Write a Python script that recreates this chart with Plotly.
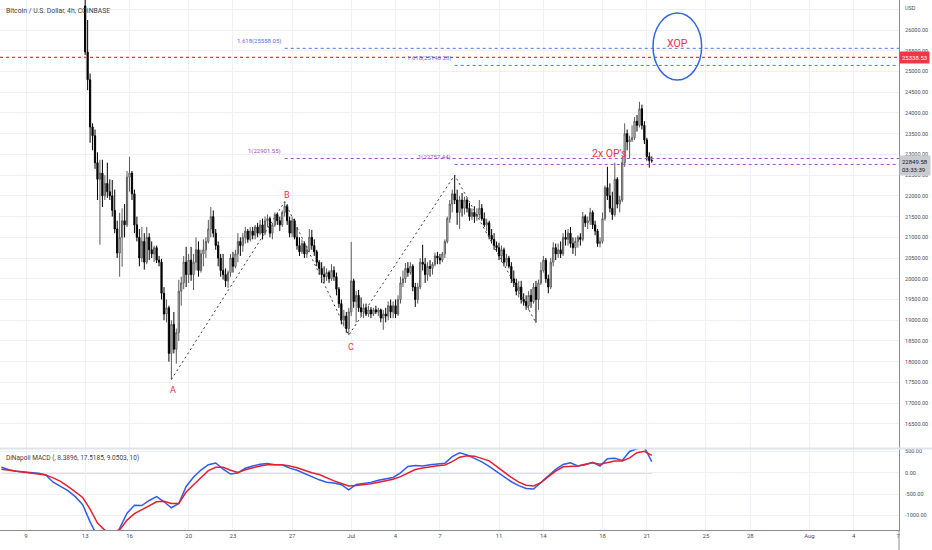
import pandas as pd
import plotly.graph_objects as go

# ---------------- data ----------------
closes = [25470, 24800, 23660, 23450, 22800, 22400, 22550, 22000, 22300, 22100,
          22000, 21650, 21200, 20620, 21000, 21400, 21300, 22450, 22550, 22050,
          21300, 21000, 20500, 20900, 20400, 21000, 20700, 20600, 20750, 20450,
          20400, 19650, 19150, 19300, 18200, 18900, 18300, 18700, 19700, 19900,
          20400, 20100, 20450, 20100, 20400, 20700, 20200, 20600, 20700, 20900,
          21200, 21500, 21100, 20800, 20500, 20200, 20100, 19950, 20150, 20500,
          20300, 20600, 20900, 20800, 21000, 21150, 20950, 21150, 21050, 21250,
          21100, 21300, 21100, 21400, 21450, 21100, 21300, 21550, 21400, 21300,
          21600, 21750, 21400, 21100, 21400, 21000, 20800, 20650, 20850, 20600,
          20700, 21000, 20800, 20650, 20400, 20250, 20100, 20050, 20150, 20000,
          20200, 20050, 19750, 19400, 19000, 19100, 18800, 19200, 19950, 19450,
          19600, 19300, 19200, 19300, 19150, 19250, 19150, 19250, 19200, 19250,
          19050, 19150, 19100, 19350, 19200, 19350, 19150, 19500, 19900, 20000,
          20250, 20150, 20300, 19800, 19500, 19800, 20400, 20350, 20100, 20300,
          20250, 20350, 20550, 20500, 20450, 20600, 20900, 21450, 21800, 22050,
          21900, 21600, 21900, 21700, 21900, 21700, 21500, 21600, 21500, 21550,
          21700, 21450, 21300, 21350, 21050, 20950, 20800, 20750, 20550, 20700,
          20400, 20500, 20300, 20000, 19900, 19700, 19800, 19500, 19450, 19350,
          19600, 19450, 19800, 19500, 19900, 20200, 20450, 20000, 19800, 20400,
          20750, 20600, 20700, 20600, 21000, 20950, 21100, 20850, 20750, 20900,
          21000, 20950, 21500, 21350, 21400, 21600, 21300, 21150, 20850, 20900,
          21450, 22200, 22000, 21700, 21550, 22400, 21800, 21900, 22800, 23500,
          23300, 23350, 23400, 23800, 23700, 24100, 23700, 23350, 22950, 22850,
          22849.58]
highs = [26900, 26240, 24950, 23750, 23600, 23050, 22870, 22870, 22500, 22800,
         22400, 22380, 22150, 21400, 21590, 21700, 21800, 22600, 22940, 22600,
         22150, 21500, 21200, 21250, 21100, 21250, 21100, 20900, 20800, 20800,
         20550, 20480, 19800, 19500, 19350, 19000, 19200, 18800, 19975, 20050,
         20550, 20770, 20600, 20770, 20600, 21000, 20900, 20700, 20950, 21000,
         21420, 21730, 21650, 21200, 20900, 20600, 20600, 20250, 20200, 20600,
         20650, 20700, 21100, 21000, 21100, 21250, 21200, 21250, 21250, 21300,
         21350, 21420, 21450, 21500, 21550, 21500, 21350, 21600, 21600, 21500,
         21650, 21860, 21800, 21500, 21500, 21450, 21250, 21000, 20950, 20900,
         20800, 21200, 21180, 20950, 20700, 20450, 20400, 20300, 20250, 20200,
         20350, 20300, 20150, 19800, 19500, 19250, 19200, 19300, 20890, 20000,
         19700, 19730, 19550, 19400, 19400, 19350, 19320, 19300, 19350, 19300,
         19280, 19250, 19300, 19450, 19500, 19450, 19500, 19600, 20050, 20200,
         20380, 20400, 20400, 20350, 19900, 19900, 20500, 20820, 20500, 20400,
         20450, 20400, 20630, 20650, 20600, 20650, 20950, 21500, 21900, 22150,
         22500, 22150, 22000, 22070, 21980, 21950, 21830, 21700, 21750, 21700,
         21900, 21800, 21600, 21450, 21400, 21200, 21100, 20900, 20870, 20800,
         20750, 20600, 20550, 20400, 20200, 20000, 19950, 19950, 19650, 19600,
         19700, 19750, 19900, 19950, 19980, 20400, 20550, 20500, 20100, 20500,
         20880, 20850, 20850, 20900, 21100, 21180, 21200, 21250, 21000, 21000,
         21050, 21100, 21610, 21550, 21500, 21710, 21650, 21400, 21200, 21000,
         21600, 22250, 22700, 22300, 22100, 22800, 22450, 22000, 22940, 23750,
         23600, 23450, 23700, 23900, 23950, 24270, 24200, 23800, 23400, 23050,
         22950]
lows = [25400, 24550, 23280, 23100, 22650, 21900, 20820, 21730, 21900, 21950,
        21900, 21500, 21100, 20500, 20050, 20290, 21000, 21250, 22100, 21900,
        21100, 20900, 20300, 20400, 20220, 20350, 20450, 20500, 20400, 20380,
        20300, 19500, 19000, 18950, 18000, 17570, 18200, 17950, 18500, 19350,
        19750, 19800, 19900, 19950, 19730, 20200, 20050, 20150, 20300, 20500,
        20850, 21000, 21000, 20700, 20300, 20050, 19980, 19800, 19780, 20050,
        20150, 20250, 20400, 20550, 20650, 20850, 20870, 20900, 20950, 20950,
        21000, 21050, 20950, 21050, 21250, 21000, 20950, 21250, 21300, 21150,
        21250, 21500, 21300, 21000, 21000, 20950, 20700, 20550, 20600, 20500,
        20500, 20650, 20700, 20550, 20300, 20100, 19900, 19900, 19950, 19900,
        19950, 19950, 19600, 19300, 18900, 18850, 18700, 18640, 19100, 19300,
        18950, 19200, 19100, 19050, 19100, 19080, 19050, 19100, 19150, 19100,
        18950, 18770, 18950, 19000, 19050, 19050, 19050, 19100, 19400, 19800,
        19900, 20050, 20100, 19700, 19320, 19400, 19750, 20200, 19900, 19950,
        20050, 20100, 20300, 20350, 20350, 20400, 20500, 20850, 21350, 21600,
        21800, 21300, 21200, 21500, 21550, 21600, 21400, 21420, 21350, 21400,
        21450, 21400, 21250, 21150, 20950, 20850, 20700, 20650, 20450, 20400,
        20300, 20300, 20250, 19900, 19800, 19600, 19550, 19400, 19350, 19250,
        19250, 19300, 19400, 18940, 19250, 19850, 20150, 19900, 19650, 19750,
        20300, 20450, 20500, 20500, 20550, 20800, 20800, 20750, 20600, 20550,
        20750, 20800, 20900, 21250, 21200, 21300, 21200, 21050, 20770, 20760,
        20850, 21400, 21900, 21600, 21420, 21500, 21700, 21600, 21850, 22700,
        23100, 22900, 23300, 23350, 23550, 23650, 23600, 23250, 22850, 22680,
        22800]
first_open = 26580
opens = [first_open] + closes[:-1]
candle_times = pd.date_range("2022-06-13 00:00", periods=len(closes), freq="4h")

macd_times = pd.date_range("2022-06-07 08:00", periods=89, freq="12h")
macd_fast = [130, 70, 35, 20, 5, -10, -50, -220, -320, -420,
             -560, -750, -1150, -1500, -1700, -1650, -1300, -950, -760, -770,
             -650, -560, -680, -820, -720, -320, -100, 65, 190, 230,
             85, -30, -5, 105, 160, 200, 220, 190, 188, 110,
             60, -20, -100, -165, -220, -240, -280, -400, -275, -250,
             -225, -175, -145, -110, 0, 150, 170, 160, 190, 210,
             225, 380, 470, 420, 340, 255, 150, 30, -100, -210,
             -300, -370, -380, -220, -60, 80, 195, 235, 160, 190,
             245, 160, 330, 340, 290, 500, 565, 600, 260]
macd_signal = [85, 60, 35, 15, -5, -25, -50, -120, -200, -320,
               -460, -580, -850, -1180, -1350, -1380, -1340, -1110, -960, -860,
               -760, -680, -670, -720, -720, -450, -280, -110, 50, 130,
               130, 60, 10, 70, 120, 160, 188, 190, 188, 160,
               120, 60, 0, -40, -120, -190, -250, -310, -300, -280,
               -258, -220, -190, -150, -90, -10, 75, 110, 145, 165,
               185, 260, 365, 400, 390, 340, 280, 150, 10, -110,
               -220, -290, -310, -230, -90, 40, 140, 150, 160, 200,
               235, 200, 240, 275, 275, 350, 470, 505, 410]

pivot_labels = ["A", "B", "C", "", ""]
pivot_times = ["2022-06-18 20:00", "2022-06-26 12:00", "2022-06-30 20:00",
               "2022-07-08 00:00", "2022-07-13 12:00"]
pivot_prices = [17570, 21860, 18640, 22500, 18940]

fib_labels = ["1.618(25558.05)", "1.618(25146.28)", "1(22901.55)", "1(22757.44)"]
fib_prices = [25558.05, 25146.28, 22901.55, 22757.44]
fib_starts = ["2022-06-26 12:00", "2022-07-08 00:00", "2022-06-26 12:00", "2022-07-08 00:00"]

alert_price = 25338.53
countdown = "03:33:39"

x_tick_dates = ["2022-06-09", "2022-06-13", "2022-06-16", "2022-06-20", "2022-06-23",
                "2022-06-27", "2022-07-01", "2022-07-04", "2022-07-07", "2022-07-11",
                "2022-07-14", "2022-07-18", "2022-07-21", "2022-07-25", "2022-07-28",
                "2022-08-01", "2022-08-04", "2022-08-07"]
x_tick_text = ["9", "13", "16", "20", "23", "27", "Jul", "4", "7", "11", "14", "18",
               "21", "25", "28", "Aug", "4", "7"]
price_ticks = [16500, 17000, 17500, 18000, 18500, 19000, 19500, 20000, 20500, 21000,
               21500, 22000, 22500, 23000, 23500, 24000, 24500, 25000, 25500, 26000, 26500]
macd_ticks = [-1000, -500, 0, 500]

# ---------------- style ----------------
X_START, X_END = "2022-06-07 05:43", "2022-08-07 01:26"
GRID = "#eef0f5"
AXIS = "#8a8d96"
TXT = "#4a4e59"
FIB_BLUE = "#4f74e3"
FIB_PURPLE = "#9d4fc4"
MARK_RED = "#e8304f"
ALERT_RED = "#f23645"
FONT = "Roboto, Arial, sans-serif"
fib_colors = [FIB_BLUE, FIB_BLUE, FIB_PURPLE, FIB_PURPLE]

fig = go.Figure()

fig.add_trace(go.Candlestick(
    x=candle_times, open=opens, high=highs, low=lows, close=closes,
    xaxis="x", yaxis="y",
    increasing=dict(line=dict(color="#5a5a5a", width=1), fillcolor="#ffffff"),
    decreasing=dict(line=dict(color="#000000", width=1), fillcolor="#000000"),
    whiskerwidth=0, hoverinfo="skip"))

# zigzag A-B-C-D-E
fig.add_trace(go.Scatter(x=pivot_times, y=pivot_prices, mode="lines",
                         line=dict(color="#3a3a3a", width=1, dash="2px,3px"),
                         xaxis="x", yaxis="y", hoverinfo="skip"))

# alert line (full width)
fig.add_trace(go.Scatter(x=[X_START, X_END], y=[alert_price, alert_price], mode="lines",
                         line=dict(color=ALERT_RED, width=1.2, dash="3px,3px"),
                         xaxis="x", yaxis="y", hoverinfo="skip"))

# fib level lines
for p, s, c in zip(fib_prices, fib_starts, fib_colors):
    fig.add_trace(go.Scatter(x=[s, X_END], y=[p, p], mode="lines",
                             line=dict(color=c, width=1, dash="3px,3px"),
                             xaxis="x", yaxis="y", hoverinfo="skip"))

# MACD
fig.add_trace(go.Scatter(x=macd_times, y=macd_fast, mode="lines",
                         line=dict(color="#2f5ee8", width=1.5),
                         xaxis="x", yaxis="y2", hoverinfo="skip"))
fig.add_trace(go.Scatter(x=macd_times, y=macd_signal, mode="lines",
                         line=dict(color="#e5202e", width=1.5),
                         xaxis="x", yaxis="y2", hoverinfo="skip"))

shapes = []
# MACD zero line
shapes.append(dict(type="line", xref="x", x0=macd_times[0], x1=macd_times[-1], yref="y2", y0=0, y1=0,
                   line=dict(color="#8a8d96", width=1), layer="below"))
# pane separator
sep = 81.5 / 530
shapes.append(dict(type="line", xref="paper", x0=0, x1=932 / 899, yref="paper", y0=sep, y1=sep,
                   line=dict(color="#e0e3eb", width=2)))
# price-scale line continuation below the time axis
shapes.append(dict(type="line", xref="paper", x0=1, x1=1, yref="paper", y0=-0.04, y1=0,
                   line=dict(color=AXIS, width=1)))
# XOP circle
shapes.append(dict(type="circle", xref="x", yref="y",
                   x0="2022-07-21 10:00", x1="2022-07-24 17:00", y0=24794, y1=26410,
                   line=dict(color="#3366e0", width=1.5)))

annotations = []
annotations.append(dict(xref="paper", yref="paper", x=0.004, y=1 - 11 / 530, xanchor="left", yanchor="middle",
                        text="Bitcoin / U.S. Dollar, 4h, COINBASE", showarrow=False,
                        font=dict(size=6.8, color="#3c3f48", family=FONT)))
annotations.append(dict(xref="paper", yref="paper", x=0.004, y=(530 - 458) / 530, xanchor="left", yanchor="middle",
                        text="DiNapoli MACD (, 8.3896, 17.5185, 9.0503, 10)", showarrow=False,
                        font=dict(size=6.5, color="#3c3f48", family=FONT)))
annotations.append(dict(xref="paper", yref="paper", x=903 / 899, y=1 - 8 / 530, xanchor="left", yanchor="middle",
                        text="USD", showarrow=False, font=dict(size=5.5, color=TXT, family=FONT)))
for lab, p, s, c in zip(fib_labels, fib_prices, fib_starts, fib_colors):
    annotations.append(dict(xref="x", yref="y", x=s, y=p, xanchor="right", yanchor="bottom",
                            xshift=-2, yshift=1, text=lab, showarrow=False,
                            font=dict(size=6, color=c, family=FONT)))
label_shift = {"A": -10, "B": 7, "C": -12}
for lab, t, p in zip(pivot_labels, pivot_times, pivot_prices):
    if lab:
        annotations.append(dict(xref="x", yref="y", x=t, y=p, xanchor="center", yanchor="middle",
                                xshift=2, yshift=label_shift[lab], text=lab, showarrow=False,
                                font=dict(size=9, color=MARK_RED, family=FONT)))
annotations.append(dict(xref="x", yref="y", x="2022-07-18 10:30", y=23033, text="2x OP's",
                        showarrow=False, font=dict(size=10.5, color=MARK_RED, family=FONT)))
annotations.append(dict(xref="x", yref="y", x="2022-07-23 01:00", y=25686, text="XOP",
                        showarrow=False, font=dict(size=10.5, color=MARK_RED, family=FONT)))
annotations.append(dict(xref="paper", yref="y", x=1, y=alert_price, xanchor="left", yanchor="middle",
                        text=f"{alert_price:.2f}", showarrow=False, bgcolor="#f23645", borderpad=2,
                        font=dict(size=6, color="white", family=FONT)))
annotations.append(dict(xref="paper", yref="y", x=1, y=closes[-1], xanchor="left", yanchor="top",
                        yshift=6, text=f"{closes[-1]:.2f}<br>{countdown}", showarrow=False,
                        bgcolor="#c9cbd1", borderpad=2, align="left",
                        font=dict(size=6, color="#131722", family=FONT)))

fig.update_layout(
    width=932, height=550,
    margin=dict(l=0, r=33, t=0, b=20),
    paper_bgcolor="white", plot_bgcolor="white",
    showlegend=False,
    font=dict(family=FONT, size=6, color=TXT),
    xaxis=dict(type="date", range=[X_START, X_END], domain=[0, 1], anchor="y2",
               tickvals=x_tick_dates, ticktext=x_tick_text, showgrid=True, gridcolor=GRID,
               showline=True, linecolor=AXIS, linewidth=1, ticks="", zeroline=False,
               tickfont=dict(size=6, color=TXT), rangeslider=dict(visible=False)),
    yaxis=dict(domain=[82 / 530, 1], range=[15918, 26724], side="right", anchor="x",
               tickvals=price_ticks,
               ticktext=[f"{v:.2f}" if v <= 26000 else "" for v in price_ticks],
               showgrid=True, gridcolor=GRID, showline=True, linecolor=AXIS, ticks="",
               zeroline=False, ticklabelstandoff=4, tickfont=dict(size=5.5, color=TXT)),
    yaxis2=dict(domain=[0, 81 / 530], range=[-1342, 558], side="right", anchor="x",
                tickvals=macd_ticks, ticktext=[f"{v:.2f}" for v in macd_ticks],
                showgrid=True, gridcolor=GRID, showline=True, linecolor=AXIS, ticks="",
                zeroline=False, ticklabelstandoff=4, tickfont=dict(size=5.5, color=TXT)),
    shapes=shapes,
    annotations=annotations,
)

fig.write_html("out.html", config={"displayModeBar": False},
               post_script="document.body.style.margin='0px';")
